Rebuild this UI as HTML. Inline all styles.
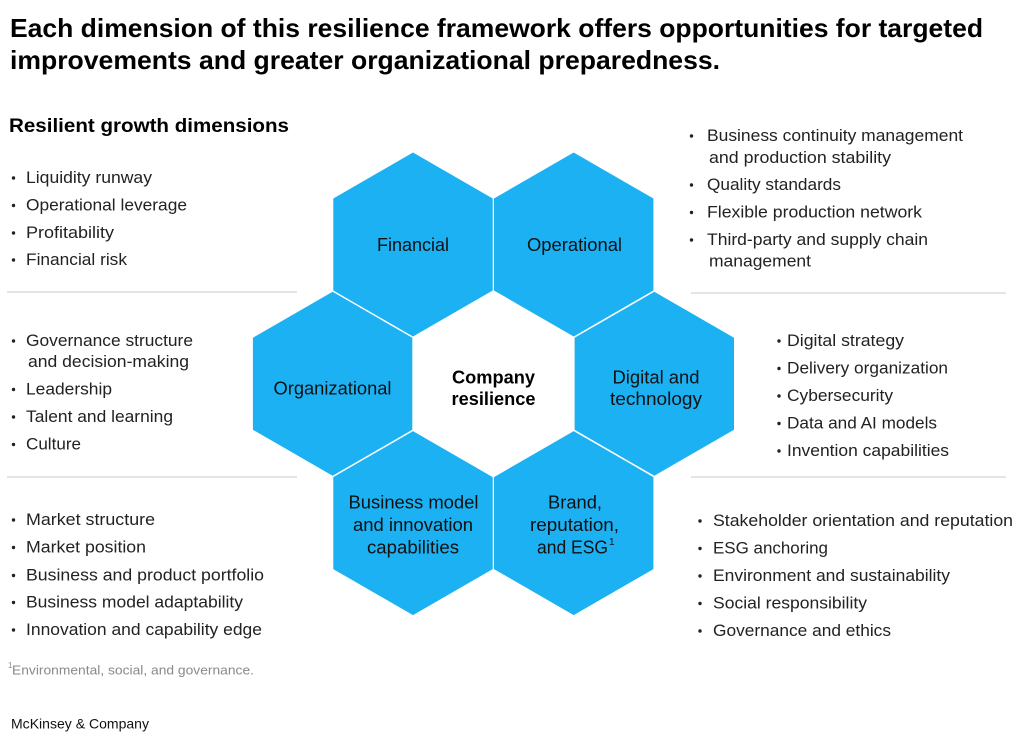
<!DOCTYPE html>
<html>
<head>
<meta charset="utf-8">
<style>
  html, body { margin: 0; padding: 0; background: #ffffff; }
  body { width: 1029px; height: 739px; overflow: hidden; }
  svg { display: block; }
  text { font-family: "Liberation Sans", Arial, sans-serif; }
  .t { font-size: 26px; font-weight: bold; fill: #000; }
  .h { font-size: 19.5px; font-weight: bold; fill: #000; }
  .li { font-size: 17px; fill: #222; }
  .hx { font-size: 18px; fill: #111; }
  .hb { font-size: 18px; font-weight: bold; fill: #000; }
  .fn { font-size: 13px; fill: #8a8a8a; }
  .mk { font-size: 14px; fill: #111; }
</style>
</head>
<body>
<svg width="1029" height="739" viewBox="0 0 1029 739" xmlns="http://www.w3.org/2000/svg">
  <defs>
    <polygon id="hex" points="0,-92 79.7,-46 79.7,46 0,92 -79.7,46 -79.7,-46" fill="#1cb1f2"/>
  </defs>

  <!-- Title -->
  <text class="t" x="10" y="37" textLength="973" lengthAdjust="spacingAndGlyphs">Each dimension of this resilience framework offers opportunities for targeted</text>
  <text class="t" x="10" y="69" textLength="710" lengthAdjust="spacingAndGlyphs">improvements and greater organizational preparedness.</text>

  <!-- Heading -->
  <text class="h" x="9" y="132" textLength="280" lengthAdjust="spacingAndGlyphs">Resilient growth dimensions</text>

  <!-- Separator lines -->
  <g stroke="#dcdcdc" stroke-width="1.5">
    <line x1="7" y1="292" x2="297" y2="292"/>
    <line x1="7" y1="477" x2="297" y2="477"/>
    <line x1="691" y1="293" x2="1006" y2="293"/>
    <line x1="691" y1="477" x2="1006" y2="477"/>
  </g>

  <!-- Hexagons -->
  <use href="#hex" x="413" y="244.5"/>
  <use href="#hex" x="573.7" y="244.5"/>
  <use href="#hex" x="332.6" y="383.8"/>
  <use href="#hex" x="654.3" y="383.8"/>
  <use href="#hex" x="413" y="523.1"/>
  <use href="#hex" x="573.7" y="523.1"/>

  <!-- Hex labels -->
  <text class="hx" x="377" y="251" textLength="72" lengthAdjust="spacingAndGlyphs">Financial</text>
  <text class="hx" x="527" y="251" textLength="95" lengthAdjust="spacingAndGlyphs">Operational</text>
  <text class="hx" x="273.5" y="394.5" textLength="118" lengthAdjust="spacingAndGlyphs">Organizational</text>
  <text class="hb" x="452" y="383.5" textLength="83" lengthAdjust="spacingAndGlyphs">Company</text>
  <text class="hb" x="451.5" y="405" textLength="84" lengthAdjust="spacingAndGlyphs">resilience</text>
  <text class="hx" x="612.5" y="383.5" textLength="87" lengthAdjust="spacingAndGlyphs">Digital and</text>
  <text class="hx" x="610" y="405" textLength="92" lengthAdjust="spacingAndGlyphs">technology</text>
  <text class="hx" x="348.5" y="508.5" textLength="130" lengthAdjust="spacingAndGlyphs">Business model</text>
  <text class="hx" x="353" y="531" textLength="120" lengthAdjust="spacingAndGlyphs">and innovation</text>
  <text class="hx" x="367" y="553.5" textLength="92" lengthAdjust="spacingAndGlyphs">capabilities</text>
  <text class="hx" x="548" y="508.5" textLength="54" lengthAdjust="spacingAndGlyphs">Brand,</text>
  <text class="hx" x="530" y="531" textLength="89" lengthAdjust="spacingAndGlyphs">reputation,</text>
  <text class="hx" x="537" y="553.5" textLength="71" lengthAdjust="spacingAndGlyphs">and ESG</text>
  <text class="hx" x="609" y="545" style="font-size:10px">1</text>

  <!-- Bullets -->
  <g fill="#222">
    <circle cx="13.5" cy="178" r="1.7"/>
    <circle cx="13.5" cy="205.5" r="1.7"/>
    <circle cx="13.5" cy="233" r="1.7"/>
    <circle cx="13.5" cy="260" r="1.7"/>

    <circle cx="13.5" cy="341" r="1.7"/>
    <circle cx="13.5" cy="389.5" r="1.7"/>
    <circle cx="13.5" cy="417" r="1.7"/>
    <circle cx="13.5" cy="444.5" r="1.7"/>

    <circle cx="13.5" cy="520" r="1.7"/>
    <circle cx="13.5" cy="547.5" r="1.7"/>
    <circle cx="13.5" cy="575.5" r="1.7"/>
    <circle cx="13.5" cy="602.5" r="1.7"/>
    <circle cx="13.5" cy="630" r="1.7"/>

    <circle cx="691.5" cy="136" r="1.7"/>
    <circle cx="691.5" cy="185" r="1.7"/>
    <circle cx="691.5" cy="212.5" r="1.7"/>
    <circle cx="691.5" cy="240" r="1.7"/>

    <circle cx="779" cy="341" r="1.7"/>
    <circle cx="779" cy="368.5" r="1.7"/>
    <circle cx="779" cy="396" r="1.7"/>
    <circle cx="779" cy="423.5" r="1.7"/>
    <circle cx="779" cy="451" r="1.7"/>

    <circle cx="700" cy="521" r="1.7"/>
    <circle cx="700" cy="548.5" r="1.7"/>
    <circle cx="700" cy="576" r="1.7"/>
    <circle cx="700" cy="603.5" r="1.7"/>
    <circle cx="700" cy="631" r="1.7"/>
  </g>

  <!-- Left lists -->
  <text class="li" x="26" y="183" textLength="126" lengthAdjust="spacingAndGlyphs">Liquidity runway</text>
  <text class="li" x="26" y="210.5" textLength="161" lengthAdjust="spacingAndGlyphs">Operational leverage</text>
  <text class="li" x="26" y="238" textLength="88" lengthAdjust="spacingAndGlyphs">Profitability</text>
  <text class="li" x="26" y="265" textLength="101" lengthAdjust="spacingAndGlyphs">Financial risk</text>

  <text class="li" x="26" y="346" textLength="167" lengthAdjust="spacingAndGlyphs">Governance structure</text>
  <text class="li" x="28" y="367" textLength="161" lengthAdjust="spacingAndGlyphs">and decision-making</text>
  <text class="li" x="26" y="394.5" textLength="86" lengthAdjust="spacingAndGlyphs">Leadership</text>
  <text class="li" x="26" y="422" textLength="147" lengthAdjust="spacingAndGlyphs">Talent and learning</text>
  <text class="li" x="26" y="449.5" textLength="55" lengthAdjust="spacingAndGlyphs">Culture</text>

  <text class="li" x="26" y="525" textLength="129" lengthAdjust="spacingAndGlyphs">Market structure</text>
  <text class="li" x="26" y="552.5" textLength="120" lengthAdjust="spacingAndGlyphs">Market position</text>
  <text class="li" x="26" y="580.5" textLength="238" lengthAdjust="spacingAndGlyphs">Business and product portfolio</text>
  <text class="li" x="26" y="607.5" textLength="217" lengthAdjust="spacingAndGlyphs">Business model adaptability</text>
  <text class="li" x="26" y="635" textLength="236" lengthAdjust="spacingAndGlyphs">Innovation and capability edge</text>

  <!-- Right lists -->
  <text class="li" x="707" y="141" textLength="256" lengthAdjust="spacingAndGlyphs">Business continuity management</text>
  <text class="li" x="709" y="163" textLength="182" lengthAdjust="spacingAndGlyphs">and production stability</text>
  <text class="li" x="707" y="190" textLength="134" lengthAdjust="spacingAndGlyphs">Quality standards</text>
  <text class="li" x="707" y="217.5" textLength="215" lengthAdjust="spacingAndGlyphs">Flexible production network</text>
  <text class="li" x="707" y="245" textLength="221" lengthAdjust="spacingAndGlyphs">Third-party and supply chain</text>
  <text class="li" x="709" y="266.5" textLength="102" lengthAdjust="spacingAndGlyphs">management</text>

  <text class="li" x="787" y="346" textLength="117" lengthAdjust="spacingAndGlyphs">Digital strategy</text>
  <text class="li" x="787" y="373.5" textLength="161" lengthAdjust="spacingAndGlyphs">Delivery organization</text>
  <text class="li" x="787" y="401" textLength="106" lengthAdjust="spacingAndGlyphs">Cybersecurity</text>
  <text class="li" x="787" y="428.5" textLength="150" lengthAdjust="spacingAndGlyphs">Data and AI models</text>
  <text class="li" x="787" y="456" textLength="162" lengthAdjust="spacingAndGlyphs">Invention capabilities</text>

  <text class="li" x="713" y="526" textLength="300" lengthAdjust="spacingAndGlyphs">Stakeholder orientation and reputation</text>
  <text class="li" x="713" y="553.5" textLength="115" lengthAdjust="spacingAndGlyphs">ESG anchoring</text>
  <text class="li" x="713" y="581" textLength="237" lengthAdjust="spacingAndGlyphs">Environment and sustainability</text>
  <text class="li" x="713" y="608.5" textLength="154" lengthAdjust="spacingAndGlyphs">Social responsibility</text>
  <text class="li" x="713" y="636" textLength="178" lengthAdjust="spacingAndGlyphs">Governance and ethics</text>

  <!-- Footnote -->
  <text class="fn" x="8" y="668" style="font-size:8px">1</text>
  <text class="fn" x="12" y="674.5" textLength="242" lengthAdjust="spacingAndGlyphs">Environmental, social, and governance.</text>

  <!-- Brand -->
  <text class="mk" x="11" y="728.5" textLength="138" lengthAdjust="spacingAndGlyphs">McKinsey &amp; Company</text>
</svg>
</body>
</html>
